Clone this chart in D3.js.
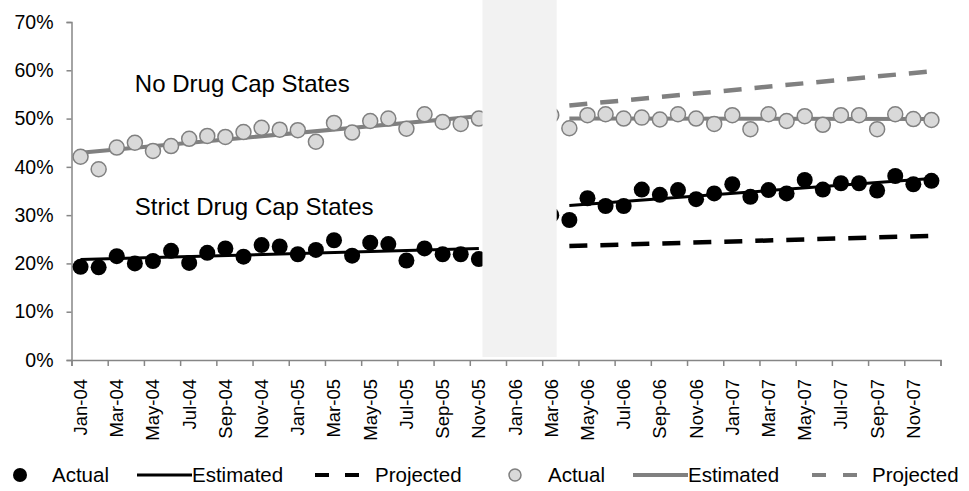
<!DOCTYPE html>
<html>
<head>
<meta charset="utf-8">
<script src="https://cdn.jsdelivr.net/npm/d3@7"></script>
<style>
  html, body { margin: 0; padding: 0; background: #fff; }
  svg { display: block; font-family: "Liberation Sans", Arial, sans-serif; }
</style>
</head>
<body>
<svg id="chart" width="969" height="491"></svg>
<script>
// ---------- data ----------
const months = [
  "Jan-04","Feb-04","Mar-04","Apr-04","May-04","Jun-04","Jul-04","Aug-04","Sep-04","Oct-04","Nov-04","Dec-04",
  "Jan-05","Feb-05","Mar-05","Apr-05","May-05","Jun-05","Jul-05","Aug-05","Sep-05","Oct-05","Nov-05","Dec-05",
  "Jan-06","Feb-06","Mar-06","Apr-06","May-06","Jun-06","Jul-06","Aug-06","Sep-06","Oct-06","Nov-06","Dec-06",
  "Jan-07","Feb-07","Mar-07","Apr-07","May-07","Jun-07","Jul-07","Aug-07","Sep-07","Oct-07","Nov-07","Dec-07"
];
const tickLabels = ["Jan-04","Mar-04","May-04","Jul-04","Sep-04","Nov-04","Jan-05","Mar-05","May-05","Jul-05","Sep-05","Nov-05",
  "Jan-06","Mar-06","May-06","Jul-06","Sep-06","Nov-06","Jan-07","Mar-07","May-07","Jul-07","Sep-07","Nov-07"];
const yTicks = [0, 10, 20, 30, 40, 50, 60, 70];

// No Drug Cap States (percent)
const noCapActual = [42.1,39.5,44.0,45.0,43.3,44.3,45.8,46.4,46.2,47.2,48.1,47.7,
  47.6,45.2,49.1,47.1,49.5,50.0,47.9,50.9,49.3,48.9,50.0,null,
  null,null,50.7,48.0,50.7,50.9,50.0,50.2,49.8,50.9,50.0,48.9,
  50.7,47.8,50.9,49.5,50.5,48.7,50.7,50.7,47.8,50.9,49.9,49.7];
// Strict Drug Cap States (percent)
const strictActual = [19.3,19.2,21.5,20.0,20.5,22.6,20.1,22.2,23.1,21.4,23.8,23.5,
  21.9,22.8,24.8,21.6,24.3,24.0,20.6,23.1,21.9,21.9,20.9,null,
  null,null,30.0,29.0,33.5,31.9,31.9,35.3,34.2,35.2,33.3,34.5,
  36.4,33.8,35.2,34.5,37.3,35.3,36.6,36.6,35.1,38.1,36.4,37.1];

// fitted / projected lines: [start month, end month] and [start value, end value]
const preMonths = ["Jan-04", "Nov-05"];
const postMonths = ["Apr-06", "Dec-07"];
const noCapEstPre = [42.9, 50.5];
const noCapEstPost = [50.0, 49.9];
const noCapProjected = [52.7, 59.8];
const strictEstPre = [20.8, 23.1];
const strictEstPost = [32.0, 37.6];
const strictProjected = [23.6, 25.7];

// shaded gap (in month-position units)
const gapBand = [22.7, 26.8];

const annotations = [
  { text: "No Drug Cap States", month: "Apr-04", value: 55.5 },
  { text: "Strict Drug Cap States", month: "Apr-04", value: 30.0 }
];

// ---------- layout ----------
const svg = d3.select("#chart");
const plotLeft = 71.5, plotRight = 940.5, plotTop = 22, plotBottom = 360;

const xBand = d3.scaleBand().domain(months).range([plotLeft, plotRight]).padding(0);
const xLin = d3.scaleLinear().domain([0, months.length]).range([plotLeft, plotRight]);
const y = d3.scaleLinear().domain([0, 70]).range([plotBottom, plotTop]);
const cx = m => xBand(m) + xBand.bandwidth() / 2;

const axisColor = "#868686";
const fontFam = "'Liberation Sans', Arial, sans-serif";

// y axis
const yAxis = svg.append("g").attr("transform", `translate(${plotLeft},0)`)
  .call(d3.axisLeft(y).tickValues(yTicks).tickSize(5).tickPadding(13).tickFormat(d => d + "%"));
yAxis.select(".domain").attr("stroke", axisColor).attr("stroke-width", 1.5);
yAxis.selectAll(".tick line").attr("stroke", axisColor).attr("stroke-width", 1.5);
yAxis.selectAll("text").attr("font-size", 19.5).attr("fill", "#000").attr("font-family", fontFam);

// x axis tick marks (category boundaries)
const xTickAxis = svg.append("g").attr("transform", `translate(0,${plotBottom})`)
  .call(d3.axisBottom(xLin).tickValues(d3.range(0, months.length + 1, 2)).tickSize(6).tickFormat(""));
xTickAxis.select(".domain").attr("stroke", axisColor).attr("stroke-width", 1.5);
xTickAxis.selectAll(".tick line").attr("stroke", axisColor).attr("stroke-width", 1.5);

// x labels at category centers
const xLabelAxis = svg.append("g").attr("transform", `translate(0,${plotBottom})`)
  .call(d3.axisBottom(xBand).tickValues(tickLabels).tickSize(0).tickPadding(0));
xLabelAxis.select(".domain").remove();
xLabelAxis.selectAll("text")
  .attr("font-size", 18.5).attr("fill", "#000").attr("font-family", fontFam)
  .attr("text-anchor", "end")
  .attr("transform", "rotate(-90)")
  .attr("x", -19).attr("y", 0).attr("dy", "0.35em");

// ---------- lines ----------
const line = d3.line().x(d => d[0]).y(d => y(d[1]));
function seg(monthsPair, vals) {
  return [[cx(monthsPair[0]), vals[0]], [cx(monthsPair[1]), vals[1]]];
}
const gray = "#808080";

svg.append("path").attr("d", line(seg(preMonths, noCapEstPre))).attr("stroke", gray).attr("stroke-width", 4).attr("fill", "none");
svg.append("path").attr("d", line(seg(postMonths, noCapEstPost))).attr("stroke", gray).attr("stroke-width", 4).attr("fill", "none");
svg.append("path").attr("d", line(seg(postMonths, noCapProjected))).attr("stroke", gray).attr("stroke-width", 4.5)
  .attr("stroke-dasharray", "18,13").attr("fill", "none");

svg.append("path").attr("d", line(seg(preMonths, strictEstPre))).attr("stroke", "#000").attr("stroke-width", 3).attr("fill", "none");
svg.append("path").attr("d", line(seg(postMonths, strictEstPost))).attr("stroke", "#000").attr("stroke-width", 3).attr("fill", "none");
svg.append("path").attr("d", line(seg(postMonths, strictProjected))).attr("stroke", "#000").attr("stroke-width", 4.5)
  .attr("stroke-dasharray", "18,13").attr("fill", "none");

// ---------- points ----------
svg.append("g").selectAll("circle")
  .data(months.map((m, i) => ({ m, v: noCapActual[i] })).filter(d => d.v != null))
  .join("circle")
  .attr("cx", d => cx(d.m)).attr("cy", d => y(d.v)).attr("r", 7.5)
  .attr("fill", "#d9d9d9").attr("stroke", gray).attr("stroke-width", 1.5);

svg.append("g").selectAll("circle")
  .data(months.map((m, i) => ({ m, v: strictActual[i] })).filter(d => d.v != null))
  .join("circle")
  .attr("cx", d => cx(d.m)).attr("cy", d => y(d.v)).attr("r", 8)
  .attr("fill", "#000");

// ---------- shaded gap ----------
svg.append("rect")
  .attr("x", xLin(gapBand[0])).attr("width", xLin(gapBand[1]) - xLin(gapBand[0]))
  .attr("y", 0).attr("height", plotBottom - 3)
  .attr("fill", "#f2f2f2");

// ---------- annotations ----------
svg.append("g").selectAll("text").data(annotations).join("text")
  .attr("x", d => cx(d.month)).attr("y", d => y(d.value))
  .attr("font-size", 24).attr("fill", "#000")
  .text(d => d.text);

// ---------- legend ----------
const lg = svg.append("g");
const ly = 475, lt = 482, lfs = 20.5;
lg.append("circle").attr("cx", 20).attr("cy", ly).attr("r", 7).attr("fill", "#000");
lg.append("text").attr("x", 52).attr("y", lt).attr("font-size", lfs).text("Actual");
lg.append("line").attr("x1", 137).attr("x2", 192).attr("y1", ly).attr("y2", ly).attr("stroke", "#000").attr("stroke-width", 3);
lg.append("text").attr("x", 192).attr("y", lt).attr("font-size", lfs).text("Estimated");
lg.append("line").attr("x1", 315).attr("x2", 359).attr("y1", ly).attr("y2", ly).attr("stroke", "#000").attr("stroke-width", 4)
  .attr("stroke-dasharray", "14,16");
lg.append("text").attr("x", 375).attr("y", lt).attr("font-size", lfs).text("Projected");
lg.append("circle").attr("cx", 515).attr("cy", ly).attr("r", 6).attr("fill", "#d9d9d9").attr("stroke", gray).attr("stroke-width", 1.5);
lg.append("text").attr("x", 548).attr("y", lt).attr("font-size", lfs).text("Actual");
lg.append("line").attr("x1", 633).attr("x2", 688).attr("y1", ly).attr("y2", ly).attr("stroke", gray).attr("stroke-width", 4);
lg.append("text").attr("x", 688).attr("y", lt).attr("font-size", lfs).text("Estimated");
lg.append("line").attr("x1", 812).attr("x2", 857).attr("y1", ly).attr("y2", ly).attr("stroke", gray).attr("stroke-width", 4)
  .attr("stroke-dasharray", "14,17");
lg.append("text").attr("x", 872).attr("y", lt).attr("font-size", lfs).text("Projected");
</script>
</body>
</html>
